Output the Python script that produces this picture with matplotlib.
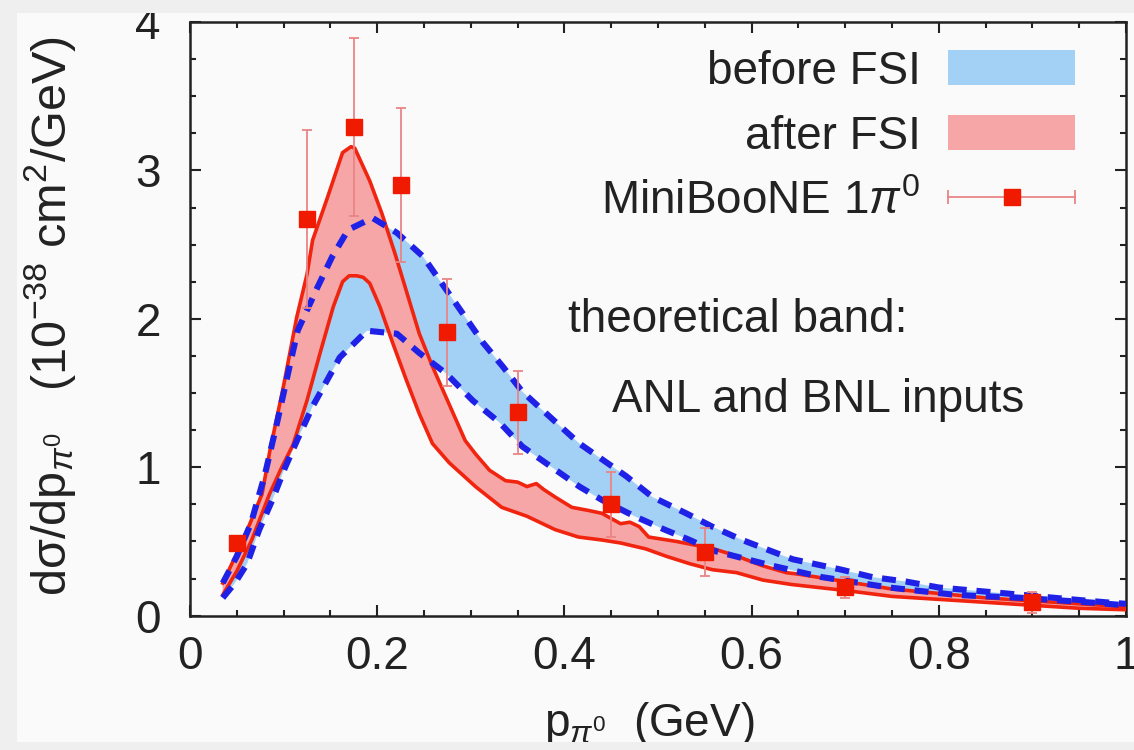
import numpy as np
import matplotlib
matplotlib.use("Agg")
import matplotlib.pyplot as plt
from matplotlib.lines import Line2D
from matplotlib.patches import Patch, Rectangle
from matplotlib.legend_handler import HandlerLine2D
from matplotlib.ticker import MultipleLocator

plt.rcParams["font.family"] = ["Liberation Sans", "DejaVu Sans"]
plt.rcParams["mathtext.fontset"] = "custom"
plt.rcParams["mathtext.rm"] = "Liberation Sans"
plt.rcParams["mathtext.it"] = "Liberation Sans:italic"
plt.rcParams["mathtext.bf"] = "Liberation Sans:bold"

# before FSI band (dashed blue edges)
before_hi_p = [0.035, 0.05, 0.065, 0.08, 0.093, 0.105, 0.115, 0.136, 0.152, 0.169, 0.195,
               0.221, 0.249, 0.27, 0.291, 0.313, 0.334, 0.355, 0.381, 0.416, 0.466, 0.494,
               0.53, 0.558, 0.59, 0.619, 0.644, 0.696, 0.729, 0.765, 0.80, 0.836, 0.872,
               0.907, 0.942, 0.979, 1.0]
before_hi = [0.22, 0.40, 0.62, 0.95, 1.30, 1.64, 1.92, 2.21, 2.42, 2.60, 2.68,
             2.58, 2.42, 2.23, 2.04, 1.84, 1.68, 1.51, 1.36, 1.16, 0.94, 0.80,
             0.69, 0.60, 0.51, 0.44, 0.38, 0.31, 0.26, 0.23, 0.19, 0.17, 0.15,
             0.13, 0.11, 0.09, 0.08]
before_lo_p = [0.035, 0.048, 0.061, 0.074, 0.088, 0.101, 0.115, 0.131, 0.16, 0.189, 0.221,
               0.245, 0.274, 0.302, 0.331, 0.355, 0.416, 0.44, 0.475, 0.507, 0.534, 0.558,
               0.62, 0.675, 0.747, 0.818, 0.889, 0.96, 1.0]
before_lo = [0.12, 0.22, 0.35, 0.58, 0.78, 0.99, 1.19, 1.41, 1.74, 1.92, 1.90,
             1.77, 1.63, 1.45, 1.30, 1.14, 0.87, 0.78, 0.67, 0.58, 0.51, 0.44,
             0.34, 0.26, 0.19, 0.14, 0.12, 0.09, 0.07]

# after FSI band (solid red edges)
after_hi_p = [0.035, 0.05, 0.064, 0.077, 0.085, 0.093, 0.1, 0.114, 0.125, 0.131, 0.147,
              0.163, 0.172, 0.176, 0.192, 0.205, 0.219, 0.232, 0.245, 0.259, 0.28, 0.294,
              0.305, 0.32, 0.337, 0.35, 0.36, 0.37, 0.378, 0.39, 0.408, 0.425, 0.44, 0.46,
              0.47, 0.48, 0.49, 0.52, 0.56, 0.585, 0.61, 0.637, 0.65, 0.7, 0.75, 0.8,
              0.85, 0.9, 0.95, 1.0]
after_hi = [0.22, 0.42, 0.62, 0.82, 1.10, 1.34, 1.55, 2.01, 2.30, 2.53, 2.82,
            3.12, 3.16, 3.15, 2.93, 2.71, 2.44, 2.17, 1.90, 1.68, 1.38, 1.18,
            1.09, 0.98, 0.91, 0.90, 0.87, 0.89, 0.85, 0.80, 0.73, 0.71, 0.69, 0.62,
            0.63, 0.60, 0.53, 0.50, 0.45, 0.40, 0.34, 0.29, 0.28, 0.23, 0.18, 0.15,
            0.12, 0.10, 0.08, 0.06]
after_lo_p = [0.035, 0.05, 0.066, 0.085, 0.098, 0.11, 0.125, 0.139, 0.153, 0.163, 0.17,
              0.178, 0.185, 0.192, 0.203, 0.217, 0.231, 0.245, 0.259, 0.277, 0.305,
              0.333, 0.36, 0.39, 0.415, 0.44, 0.46, 0.487, 0.509, 0.534, 0.558, 0.584,
              0.612, 0.643, 0.7, 0.75, 0.8, 0.85, 0.9, 0.95, 1.0]
after_lo = [0.14, 0.30, 0.51, 0.82, 1.00, 1.15, 1.45, 1.77, 2.08, 2.25, 2.29,
            2.29, 2.28, 2.24, 2.08, 1.83, 1.59, 1.36, 1.16, 1.03, 0.87,
            0.73, 0.67, 0.58, 0.53, 0.51, 0.49, 0.45, 0.40, 0.35, 0.31, 0.29,
            0.24, 0.21, 0.17, 0.13, 0.11, 0.09, 0.07, 0.05, 0.04]

# MiniBooNE 1pi0 momentum distribution
mb_p = [0.05, 0.125, 0.175, 0.225, 0.275, 0.35, 0.45, 0.55, 0.70, 0.90]
mb_xsec = [0.49, 2.67, 3.29, 2.90, 1.91, 1.37, 0.75, 0.43, 0.19, 0.09]
mb_err = [0.04, 0.60, 0.60, 0.52, 0.36, 0.28, 0.22, 0.16, 0.07, 0.07]

blue_fill = "#a3d1f6"
red_fill = "#f6a6a6"
red_line = "#f0240f"
blue_line = "#1f22e6"
err_color = "#e98585"
text_color = "#222222"
fs = 33

fig = plt.figure(figsize=(11.34, 7.5), dpi=100, facecolor="#fafafa")
ax = fig.add_axes([190 / 1134, (750 - 615.7) / 750, (1126 - 190) / 1134, (615.7 - 22) / 750])
ax.set_facecolor("#fafafa")

ax.fill(np.concatenate([before_lo_p, before_hi_p[::-1]]),
        np.concatenate([before_lo, before_hi[::-1]]),
        color=blue_fill, lw=0, zorder=1)
ax.fill(np.concatenate([after_lo_p, after_hi_p[::-1]]),
        np.concatenate([after_lo, after_hi[::-1]]),
        color=red_fill, lw=0, zorder=2)
ax.plot(after_hi_p, after_hi, color=red_line, lw=2.6, zorder=3)
ax.plot(after_lo_p, after_lo, color=red_line, lw=2.6, zorder=3)
dash = (0, (2.3, 1.6))
ax.plot(before_hi_p, before_hi, color=blue_line, lw=4.4, ls=dash, dash_capstyle="butt", zorder=4)
ax.plot(before_lo_p, before_lo, color=blue_line, lw=4.4, ls=dash, dash_capstyle="butt", zorder=4)

ax.errorbar(mb_p, mb_xsec, yerr=mb_err, fmt="none", ecolor=err_color, elinewidth=1.3,
            capsize=3.6, capthick=1.3, zorder=5)
ax.plot(mb_p, mb_xsec, ls="none", marker="s", ms=11.5, color="#f01a00", zorder=6)

ax.set_xlim(0, 1)
ax.set_ylim(0, 4)
ax.xaxis.set_minor_locator(MultipleLocator(0.05))
ax.yaxis.set_minor_locator(MultipleLocator(0.25))
ax.set_xticks([0, 0.2, 0.4, 0.6, 0.8, 1.0], ["0", "0.2", "0.4", "0.6", "0.8", "1"])
ax.set_yticks([0, 1, 2, 3, 4], ["0", "1", "2", "3", "4"])
ax.tick_params(which="both", direction="in", top=True, right=True, width=1.5, color="#222222",
               labelsize=fs, labelcolor=text_color)
ax.tick_params(which="major", length=8)
ax.tick_params(which="minor", length=4.5)
ax.tick_params(axis="x", pad=14)
ax.tick_params(axis="y", pad=21)
for s in ax.spines.values():
    s.set_linewidth(1.8)
    s.set_color("#222222")

ax.set_xlabel(r"p$_{\pi^0}$  (GeV)", fontsize=fs, color=text_color)
ax.set_ylabel(r"d$\mathrm{\sigma}$/dp$_{\pi^0}$   (10$^{-38}$ cm$^2$/GeV)", fontsize=35,
              color=text_color)
ax.xaxis.set_label_coords(0.491, -0.142)
ax.yaxis.set_label_coords(-0.12, 0.505)

ax.text(0.404, 1.99, "theoretical band:", fontsize=fs, color=text_color, va="center")
ax.text(0.451, 1.45, "ANL and BNL inputs", fontsize=fs, color=text_color, va="center")

err_handle = Line2D([], [], color=err_color, lw=1.3, marker="|", ms=10, mew=1.3)
sq_handle = Line2D([], [], ls="none", marker="s", ms=11.5, color="#f01a00")
handles = [Patch(facecolor=blue_fill, edgecolor="none"),
           Patch(facecolor=red_fill, edgecolor="none"),
           (err_handle, sq_handle)]
labels = ["before FSI", "after FSI", r"MiniBooNE 1$\pi^0$"]
leg = ax.legend(handles, labels, loc="upper right", bbox_to_anchor=(0.9455, 0.9536),
                markerfirst=False, frameon=False, fontsize=fs, handlelength=2.77,
                handleheight=0.8, handletextpad=0.6, labelspacing=0.46, numpoints=2,
                borderpad=0, borderaxespad=0,
                handler_map={sq_handle: HandlerLine2D(numpoints=1),
                             err_handle: HandlerLine2D(numpoints=2, marker_pad=0)})
for t in leg.get_texts():
    t.set_color(text_color)

# frame bands around the figure
for rect in [(0, 1 - 13 / 750, 1, 13 / 750), (0, 0, 17 / 1134, 1), (0, 0, 1, 8 / 750)]:
    fig.patches.append(Rectangle(rect[:2], rect[2], rect[3], transform=fig.transFigure,
                                 facecolor="#efefef", edgecolor="none", zorder=10))

fig.savefig("out.png", dpi=100, facecolor=fig.get_facecolor())
